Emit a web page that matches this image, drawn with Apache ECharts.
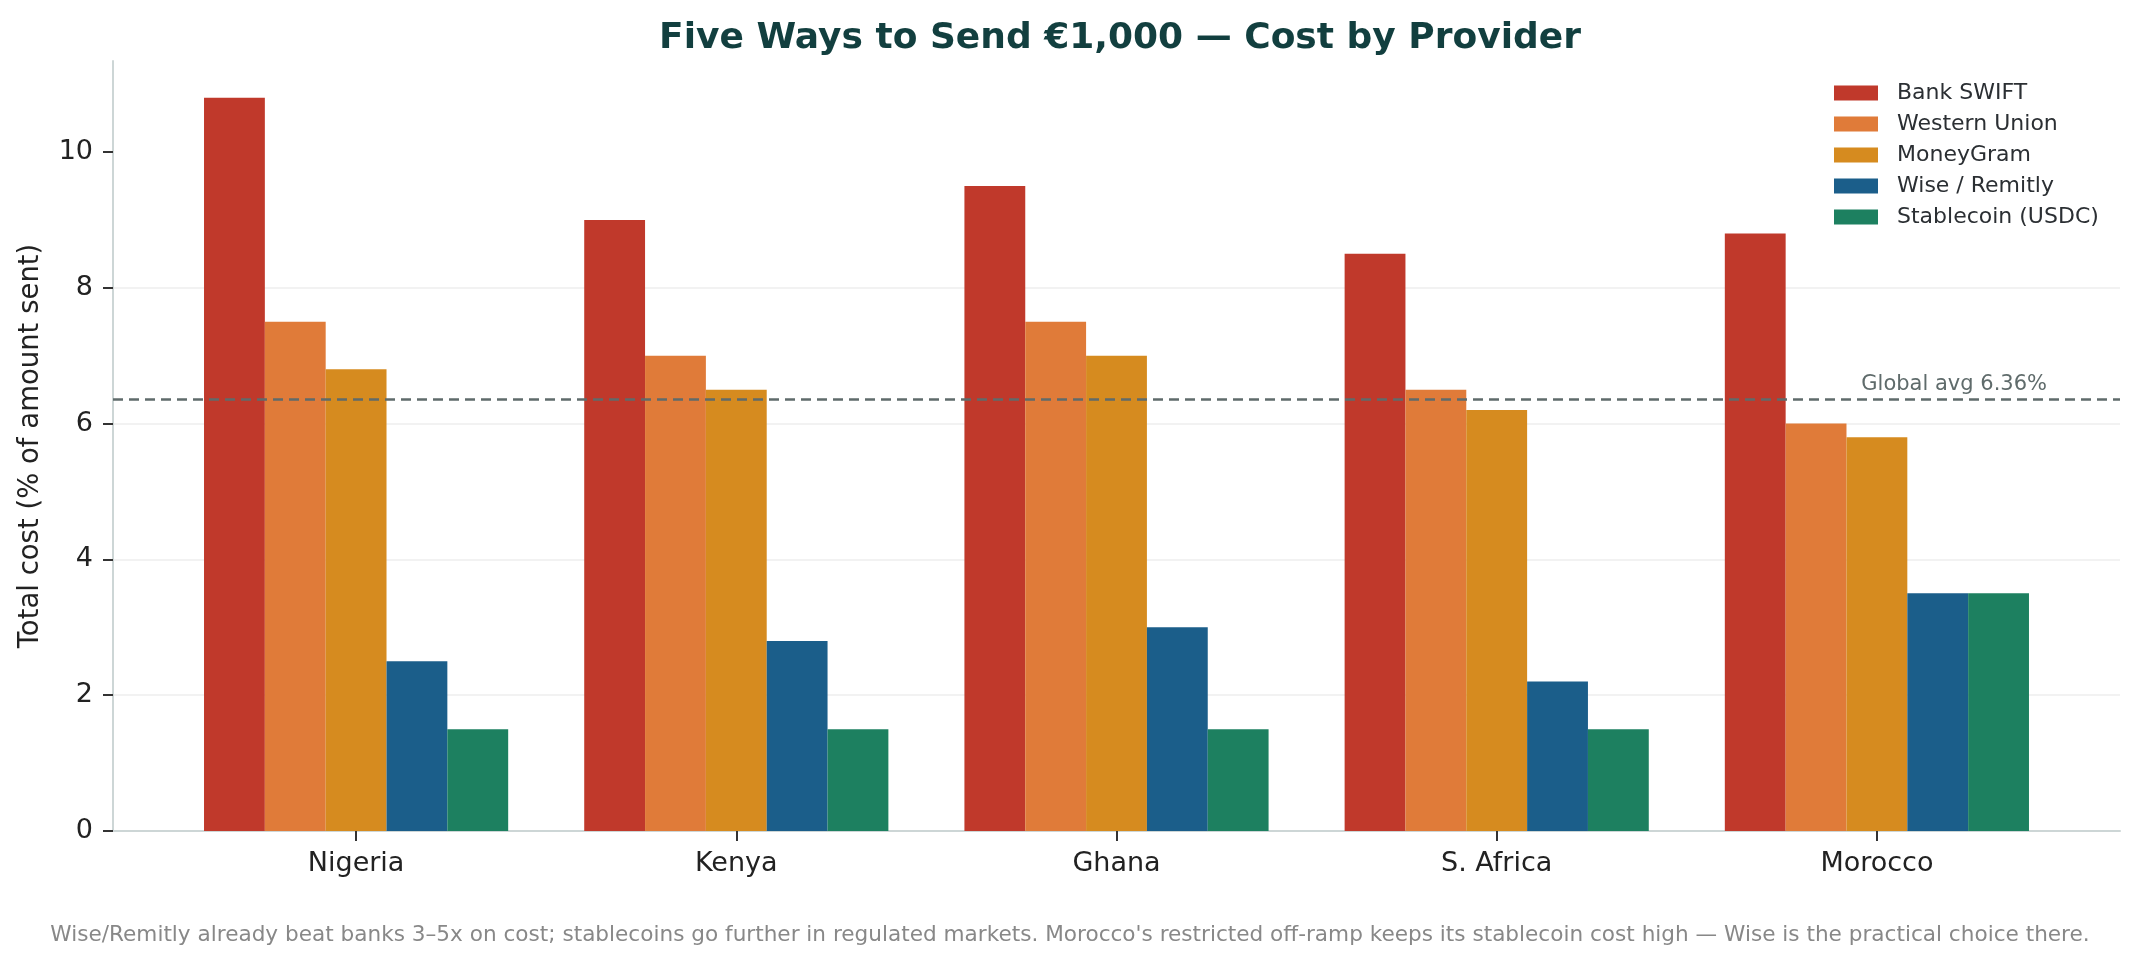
<!DOCTYPE html>
<html>
<head>
<meta charset="utf-8">
<title>Five Ways to Send €1,000</title>
<script src="https://cdn.jsdelivr.net/npm/echarts@6/dist/echarts.min.js"></script>
<style>
  html, body { margin: 0; padding: 0; background: #ffffff; }
  #chart { width: 2140px; height: 961px; }
</style>
</head>
<body>
<div id="chart"></div>
<script>
// data
const countries = ['Nigeria', 'Kenya', 'Ghana', 'S. Africa', 'Morocco'];
const providers = ['Bank SWIFT', 'Western Union', 'MoneyGram', 'Wise / Remitly', 'Stablecoin (USDC)'];
const bankSwift = [10.8, 9.0, 9.5, 8.5, 8.8];
const westernUnion = [7.5, 7.0, 7.5, 6.5, 6.0];
const moneyGram = [6.8, 6.5, 7.0, 6.2, 5.8];
const wiseRemitly = [2.5, 2.8, 3.0, 2.2, 3.5];
const stablecoin = [1.5, 1.5, 1.5, 1.5, 3.5];
const globalAvg = 6.36;
const yTicks = [0, 2, 4, 6, 8, 10];

const colors = ['#C0392B', '#E07B39', '#D68B1F', '#1B5E8A', '#1D8060'];
const seriesValues = [bankSwift, westernUnion, moneyGram, wiseRemitly, stablecoin];
const fontFamily = '"DejaVu Sans", sans-serif';

let chart = echarts.init(document.getElementById('chart'));

let series = [];
for (let i = 0; i < providers.length; i++) {
  series.push({
    name: providers[i],
    type: 'bar',
    xAxisIndex: 1,
    yAxisIndex: 1,
    data: seriesValues[i],
    barGap: '0%',
    barCategoryGap: '20%',
    itemStyle: { color: colors[i] },
    emphasis: { disabled: true },
  });
}
// global average line, on the outer grid so it spans the whole axis
series.push({
  type: 'line',
  xAxisIndex: 0,
  yAxisIndex: 0,
  data: [],
  z: 5,
  silent: true,
  markLine: {
    symbol: 'none',
    silent: true,
    lineStyle: { color: '#5F6B6B', width: 2.5, type: [10, 6] },
    label: {
      show: true,
      position: 'insideEndTop',
      distance: [73, 4],
      formatter: 'Global avg ' + globalAvg + '%',
      color: '#5F6B6B',
      fontSize: 21,
      fontFamily: fontFamily,
    },
    data: [{ yAxis: globalAvg }],
  },
});

let option = {
  backgroundColor: '#ffffff',
  animation: false,
  textStyle: { fontFamily: fontFamily },
  title: [
    {
      text: 'Five Ways to Send €1,000 — Cost by Provider',
      left: 1115,
      top: 16,
      textAlign: 'center',
      textStyle: { fontSize: 36, fontWeight: 'bold', color: '#123F3F', fontFamily: fontFamily },
    },
    {
      text: "Wise/Remitly already beat banks 3–5x on cost; stablecoins go further in regulated markets. Morocco's restricted off-ramp keeps its stablecoin cost high — Wise is the practical choice there.",
      left: 'center',
      top: 919,
      textStyle: { fontSize: 21.6, fontWeight: 'normal', color: '#888888', fontFamily: fontFamily },
    },
  ],
  legend: {
    data: providers,
    orient: 'vertical',
    left: 1829,
    top: 77,
    icon: 'rect',
    itemWidth: 44,
    itemHeight: 15,
    itemGap: 9,
    selectedMode: false,
    textStyle: { fontSize: 22, color: '#2B2F33', padding: [0, 0, 0, 14], fontFamily: fontFamily },
  },
  grid: [
    { left: 113, right: 20, top: 61, bottom: 130 }, // 轴线 / 网格
    { left: 166, right: 73, top: 61, bottom: 130 }, // 柱子
  ],
  xAxis: [
    {
      type: 'value',
      gridIndex: 0,
      min: -0.64,
      max: 4.64,
      axisLine: { show: true, onZero: false, lineStyle: { color: '#CDD6D6', width: 2 } },
      axisTick: { show: false },
      axisLabel: { show: false },
      splitLine: { show: false },
    },
    {
      type: 'category',
      gridIndex: 1,
      data: countries,
      axisLine: { show: false },
      axisTick: { show: true, alignWithLabel: true, length: 10, lineStyle: { color: '#333333', width: 2 } },
      axisLabel: { fontSize: 27, color: '#222222', margin: 19, fontFamily: fontFamily },
      splitLine: { show: false },
    },
  ],
  yAxis: [
    {
      type: 'value',
      gridIndex: 0,
      min: 0,
      max: 11.34,
      interval: 2,
      name: 'Total cost (% of amount sent)',
      nameLocation: 'middle',
      nameGap: 68,
      nameTextStyle: { fontSize: 27.5, color: '#222222', fontFamily: fontFamily },
      axisLine: { show: true, onZero: false, lineStyle: { color: '#CDD6D6', width: 2 } },
      axisTick: { show: true, length: 10, customValues: yTicks, lineStyle: { color: '#333333', width: 2 } },
      axisLabel: { fontSize: 27, color: '#222222', margin: 20, customValues: yTicks, fontFamily: fontFamily },
      splitLine: { show: true, showMinLine: false, showMaxLine: false, lineStyle: { color: '#EEEEEE', width: 1.5 } },
    },
    {
      type: 'value',
      gridIndex: 1,
      min: 0,
      max: 11.34,
      show: false,
      splitLine: { show: false },
    },
  ],
  series: series,
};

chart.setOption(option);
</script>
</body>
</html>
